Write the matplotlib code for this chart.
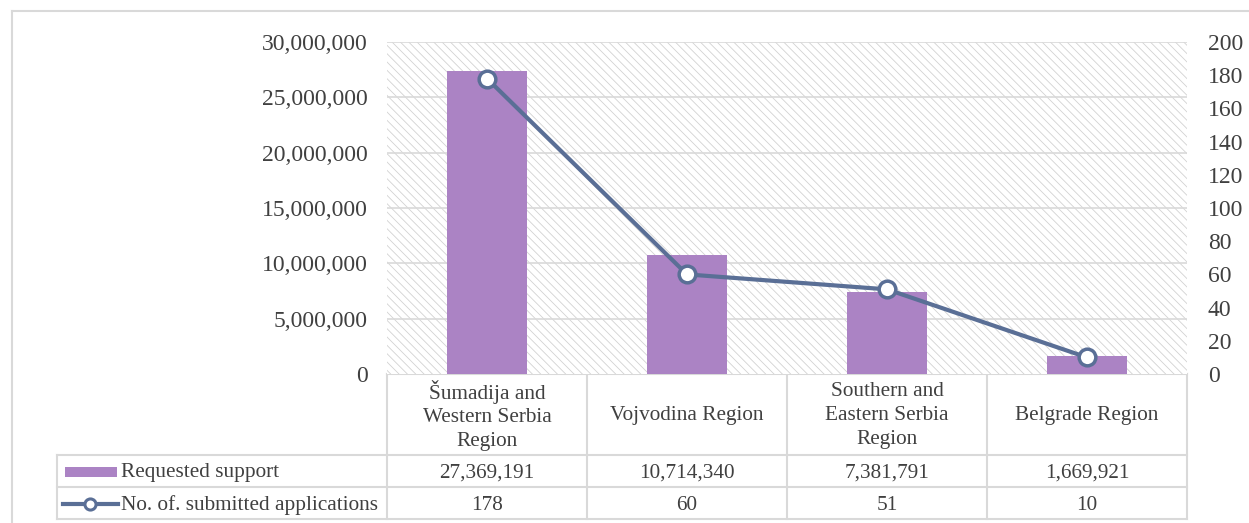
import matplotlib
matplotlib.use("Agg")
import matplotlib.pyplot as plt
from matplotlib.patches import Rectangle
from matplotlib.lines import Line2D

# --- data ---------------------------------------------------------------
regions = ["Šumadija and\nWestern Serbia\nRegion", "Vojvodina Region",
           "Southern and\nEastern Serbia\nRegion", "Belgrade Region"]
requested_support = [27369191, 10714340, 7381791, 1669921]
applications = [178, 60, 51, 10]
series_names = ["Requested support", "No. of. submitted applications"]

BAR_C = "#ab83c4"
LINE_C = "#5a6f96"
TXT_C = "#404040"
GRID_C = "#d9d9d9"

W, H = 1249, 523
plt.rcParams["font.family"] = ["Liberation Serif", "DejaVu Serif"]

fig = plt.figure(figsize=(W / 100, H / 100), dpi=100)


# plot area in pixels
x0, x1, ytop, ybot = 387, 1187, 42, 374
ax = fig.add_axes([x0 / W, 1 - ybot / H, (x1 - x0) / W, (ybot - ytop) / H])
n = len(regions)
xs = list(range(n))
ax.set_xlim(-0.5, n - 0.5)
ax.set_ylim(0, 30_000_000)
ax.set_yticks(range(0, 30_000_001, 5_000_000))
ax.yaxis.set_major_formatter(matplotlib.ticker.FuncFormatter(lambda v, p: f"{int(v):,}"))
ax.tick_params(axis="y", length=0, labelsize=17, labelcolor=TXT_C, pad=14)
ax.set_xticks([])
for s in ax.spines.values():
    s.set_visible(False)

plt.rcParams["hatch.linewidth"] = 0.6
ax.add_patch(Rectangle((0, 0), 1, 1, transform=ax.transAxes, facecolor="white",
                       edgecolor="#d2d2d2", hatch="\\\\\\\\", lw=0, zorder=0))
for v in range(5_000_000, 30_000_001, 5_000_000):
    ax.axhline(v, color=GRID_C, lw=1.2, zorder=1)

ax.bar(xs, requested_support, width=0.4, color=BAR_C, zorder=2)

ax2 = ax.twinx()
ax2.set_ylim(0, 200)
ax2.set_yticks(range(0, 201, 20))
ax2.tick_params(axis="y", length=0, labelsize=17, labelcolor=TXT_C, pad=15)
for s in ax2.spines.values():
    s.set_visible(False)
ax2.plot(xs, applications, color=LINE_C, lw=3, marker="o", ms=12,
         mfc="white", mec=LINE_C, mew=2.5, zorder=3)

# --- data table below the plot -----------------------------------------
tab = fig.add_axes([0, 0, 1, 1], zorder=-1)
tab.set_xlim(0, W)
tab.set_ylim(H, 0)
tab.axis("off")

left = 57
rows_y = [374, 455, 487, 519]
col_w = (x1 - x0) / n
cols_x = [x0 + i * col_w for i in range(n + 1)]
lc = dict(color=GRID_C, lw=1.5)

# outer chart-area border
tab.plot([12, W], [11, 11], **lc)
tab.plot([12, 12], [11, H], **lc)

# horizontal lines
tab.plot([x0, x1], [rows_y[0], rows_y[0]], **lc)
for y in rows_y[1:]:
    tab.plot([left, x1], [y, y], **lc)
# vertical lines
tab.plot([left, left], [rows_y[1], rows_y[3]], **lc)
for x in cols_x:
    tab.plot([x, x], [rows_y[0], rows_y[3]], **lc)

fs = 15.3
for i, name in enumerate(regions):
    cx = (cols_x[i] + cols_x[i + 1]) / 2
    tab.text(cx, (rows_y[0] + rows_y[1]) / 2 + 1, name, ha="center", va="center",
             fontsize=fs, color=TXT_C, linespacing=1.33)
    tab.text(cx, (rows_y[1] + rows_y[2]) / 2 + 2, f"{requested_support[i]:,}",
             ha="center", va="center", fontsize=fs, color=TXT_C)
    tab.text(cx, (rows_y[2] + rows_y[3]) / 2 + 2, f"{applications[i]}",
             ha="center", va="center", fontsize=fs, color=TXT_C)

# legend keys inside the table
r1 = (rows_y[1] + rows_y[2]) / 2
r2 = (rows_y[2] + rows_y[3]) / 2
tab.add_patch(Rectangle((65, r1 - 4), 52, 10, facecolor=BAR_C, edgecolor="none"))
tab.add_line(Line2D([63, 118], [r2 + 1, r2 + 1], color=LINE_C, lw=3))
tab.add_line(Line2D([90], [r2 + 1], color=LINE_C, marker="o", ms=8, mfc="white",
                    mec=LINE_C, mew=2.2))
tab.text(121, r1 + 2, series_names[0], ha="left", va="center", fontsize=fs, color=TXT_C)
tab.text(121, r2 + 2, series_names[1], ha="left", va="center", fontsize=fs, color=TXT_C)

fig.savefig("out.png", dpi=100)
